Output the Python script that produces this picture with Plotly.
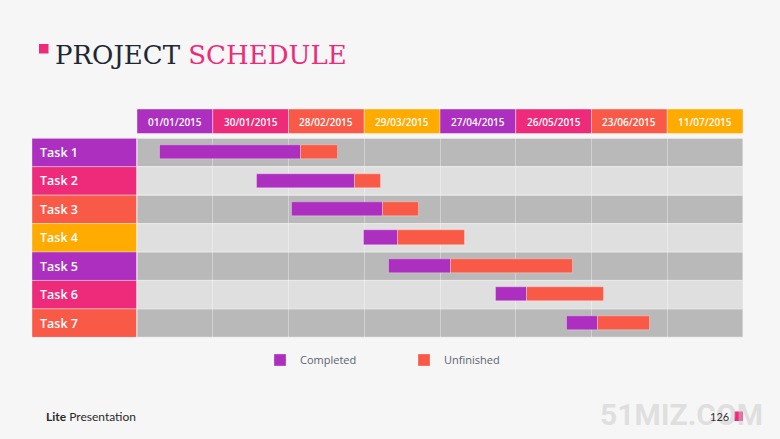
import plotly.graph_objects as go

# ---------------- data ----------------
tasks = ["Task 1", "Task 2", "Task 3", "Task 4", "Task 5", "Task 6", "Task 7"]
# timeline positions, in header-column units (0 = 01/01/2015 column start)
task_start = [0.30, 1.59, 2.04, 3.00, 3.33, 4.74, 5.68]
completed_end = [2.17, 2.88, 3.25, 3.45, 4.15, 5.15, 6.08]
unfinished_end = [2.66, 3.22, 3.72, 4.33, 5.76, 6.16, 6.77]
header_dates = ["01/01/2015", "30/01/2015", "28/02/2015", "29/03/2015",
                "27/04/2015", "26/05/2015", "23/06/2015", "11/07/2015"]

# ---------------- style ----------------
W, H = 780, 439
PURPLE, PINK, CORAL, ORANGE = "#ad2fbf", "#ee2a7b", "#f95a47", "#ffab00"
cycle = [PURPLE, PINK, CORAL, ORANGE]
BAR_COMPLETED, BAR_UNFINISHED = "#ad2fbf", "#f95a47"

def px_x(x):
    return x / W

def px_y(y):
    return 1 - y / H

completed_len = [c - s for s, c in zip(task_start, completed_end)]
unfinished_len = [u - c for c, u in zip(completed_end, unfinished_end)]

fig = go.Figure()
fig.add_trace(go.Bar(
    name="Completed", y=tasks, x=completed_len, base=task_start, orientation="h",
    width=0.5, marker=dict(color=BAR_COMPLETED, line=dict(color="rgba(255,255,255,0.3)", width=1)),
    hoverinfo="skip"))
fig.add_trace(go.Bar(
    name="Unfinished", y=tasks, x=unfinished_len, base=completed_end, orientation="h",
    width=0.5, marker=dict(color=BAR_UNFINISHED, line=dict(color="rgba(255,255,255,0.3)", width=1)),
    hoverinfo="skip"))

shapes = []
annotations = []

# row backgrounds
for i, t in enumerate(tasks):
    shapes.append(dict(type="rect", xref="x", yref="y", x0=0, x1=len(header_dates),
                       y0=i - 0.5, y1=i + 0.5, layer="below",
                       fillcolor="#b9b9b9" if i % 2 == 0 else "#dfdfdf",
                       line=dict(color="#e9e9e9", width=1)))
    # task label boxes
    shapes.append(dict(type="rect", xref="paper", yref="y", x0=px_x(32), x1=px_x(136.5),
                       y0=i - 0.5, y1=i + 0.5, layer="below",
                       fillcolor=cycle[i % 4], line=dict(color="rgba(255,255,255,0.35)", width=1)))
    annotations.append(dict(xref="paper", yref="y", x=px_x(38), y=i, text=t,
                            xanchor="left", yanchor="middle", showarrow=False,
                            font=dict(family="Open Sans", size=12.5, color="white", weight=600)))

# header cells
for j, d in enumerate(header_dates):
    shapes.append(dict(type="rect", xref="x", yref="paper", x0=j, x1=j + 1,
                       y0=px_y(133.5), y1=px_y(109), layer="below",
                       fillcolor=cycle[j % 4], line=dict(color="rgba(255,255,255,0.4)", width=1)))
    annotations.append(dict(xref="x", yref="paper", x=j + 0.5, y=px_y(121.5), text=d,
                            xanchor="center", yanchor="middle", showarrow=False,
                            font=dict(family="Open Sans", size=10, color="white", weight=600)))

# title
shapes.append(dict(type="rect", xref="paper", yref="paper", x0=px_x(39), x1=px_x(48.5),
                   y0=px_y(53.5), y1=px_y(44), fillcolor=PINK, line=dict(width=0)))
annotations.append(dict(xref="paper", yref="paper", x=px_x(53), y=px_y(54.5),
                        text="<span style='color:#1e2833'>PROJECT</span> <span style='color:#ee2a7b'>SCHEDULE</span>",
                        xanchor="left", yanchor="middle", showarrow=False,
                        font=dict(family="DejaVu Serif", size=26)))

# footer
annotations.append(dict(xref="paper", yref="paper", x=px_x(765), y=px_y(414),
                        text="51MIZ.COM", xanchor="right", yanchor="middle",
                        showarrow=False,
                        font=dict(family="Roboto", size=30, color="rgba(200,200,200,0.5)", weight=700)))
annotations.append(dict(xref="paper", yref="paper", x=px_x(44), y=px_y(416),
                        text="<b>Lite</b> Presentation", xanchor="left", yanchor="middle",
                        showarrow=False, font=dict(family="Lato", size=12, color="#2a2a2a")))
annotations.append(dict(xref="paper", yref="paper", x=px_x(731), y=px_y(416),
                        text="126", xanchor="right", yanchor="middle",
                        showarrow=False, font=dict(family="Lato", size=11, color="#333333")))
shapes.append(dict(type="rect", xref="paper", yref="paper", x0=px_x(734.5), x1=px_x(743),
                   y0=px_y(421), y1=px_y(411.5), fillcolor=PINK, line=dict(width=0)))

fig.update_layout(
    width=W, height=H,
    margin=dict(l=0, r=0, t=0, b=0),
    paper_bgcolor="#f6f6f6", plot_bgcolor="rgba(0,0,0,0)",
    barmode="overlay", bargap=0,
    showlegend=True,
    legend=dict(orientation="h", x=px_x(260), y=px_y(360), xanchor="left", yanchor="middle",
                bgcolor="rgba(0,0,0,0)", entrywidth=99, entrywidthmode="pixels",
                font=dict(family="Open Sans", size=11, color="#5a6470"),
                itemclick=False, itemdoubleclick=False),
    xaxis=dict(domain=[px_x(137), px_x(743)], range=[0, len(header_dates)],
               showticklabels=False, showgrid=True, dtick=1, tick0=0,
               gridcolor="rgba(255,255,255,0.35)", gridwidth=1, zeroline=False, fixedrange=True),
    yaxis=dict(domain=[px_y(337.3), px_y(138.3)], type="category",
               categoryorder="array", categoryarray=tasks,
               range=[len(tasks) - 0.5, -0.5], showticklabels=False, showgrid=False,
               zeroline=False, fixedrange=True),
    shapes=shapes, annotations=annotations,
)

fig.write_html("out.html", config={"displayModeBar": False},
               post_script="document.body.style.margin='0';document.body.style.background='#f6f6f6';")
